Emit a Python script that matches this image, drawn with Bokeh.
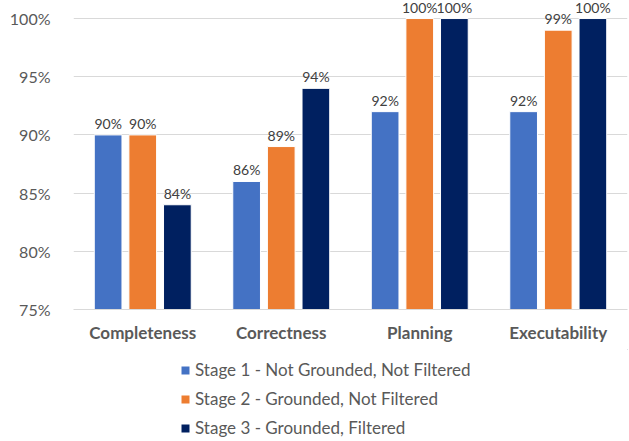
from bokeh.plotting import figure
from bokeh.layouts import column
from bokeh.models import ColumnDataSource, FactorRange, Legend, LegendItem, NumeralTickFormatter, FixedTicker
from bokeh.transform import dodge
from bokeh.core.properties import value
from bokeh.embed import file_html
from bokeh.resources import INLINE

categories = ["Completeness", "Correctness", "Planning", "Executability"]
stage1 = [90, 86, 92, 92]
stage2 = [90, 89, 100, 99]
stage3 = [84, 94, 100, 100]
series_names = ["Stage 1 - Not Grounded, Not Filtered",
                "Stage 2 - Grounded, Not Filtered",
                "Stage 3 - Grounded, Filtered"]
colors = ["#4472C4", "#ED7D31", "#002060"]
y_ticks = [75, 80, 85, 90, 95, 100]

src = ColumnDataSource(dict(
    cat=categories,
    s1=stage1, s2=stage2, s3=stage3,
    l1=[f"{v}%" for v in stage1],
    l2=[f"{v}%" for v in stage2],
    l3=[f"{v}%" for v in stage3],
))

p = figure(width=629, height=349,
           x_range=FactorRange(*categories, range_padding=0),
           y_range=(75, 101.55), output_backend="svg", toolbar_location=None,
           min_border_left=73, min_border_right=2, min_border_top=0, min_border_bottom=40)
p.outline_line_color = None
p.background_fill_color = "white"
p.border_fill_color = "white"

offsets = [-0.25, 0.0, 0.25]
keys = ["s1", "s2", "s3"]
lkeys = ["l1", "l2", "l3"]
for off, k, lk, c in zip(offsets, keys, lkeys, colors):
    p.vbar(x=dodge("cat", off, range=p.x_range), top=k, bottom=75, width=0.2,
           source=src, fill_color=c, line_color="white", line_width=1)
    p.text(x=dodge("cat", off, range=p.x_range), y=k, text=lk, source=src,
           text_align="center", text_baseline="bottom", y_offset=-3,
           text_font=value("Lato"), text_font_size="14px", text_color="#404040")

p.yaxis.ticker = FixedTicker(ticks=y_ticks)
p.yaxis.formatter = NumeralTickFormatter(format="0")
p.yaxis.major_label_overrides = {t: f"{t}%" for t in y_ticks}
p.yaxis.axis_line_color = None
p.yaxis.major_tick_line_color = None
p.yaxis.minor_tick_line_color = None
p.yaxis.major_label_standoff = 17
p.yaxis.major_label_text_font = "Lato"
p.yaxis.major_label_text_font_size = "16px"
p.yaxis.major_label_text_color = "#595959"

p.xaxis.axis_line_color = "#D9D9D9"
p.xaxis.major_tick_line_color = None
p.xaxis.minor_tick_line_color = None
p.xaxis.major_label_standoff = 6
p.xaxis.major_label_text_font = "Lato"
p.xaxis.major_label_text_font_style = "bold"
p.xaxis.major_label_text_font_size = "17px"
p.xaxis.major_label_text_color = "#595959"

p.xgrid.grid_line_color = None
p.ygrid.grid_line_color = "#D9D9D9"
p.ygrid.ticker = FixedTicker(ticks=y_ticks)

# legend figure below the chart (its dummy bars lie outside its visible range)
lg = figure(width=629, height=92, x_range=(0, 1), y_range=(0, 1),
            x_axis_location=None, y_axis_location=None,
            output_backend="svg", toolbar_location=None,
            min_border_left=0, min_border_right=0, min_border_top=0, min_border_bottom=0)
lg.grid.grid_line_color = None
lg.outline_line_color = None
hidden = ColumnDataSource(dict(x=[5], top=[5]))
leg_renderers = [lg.vbar(x="x", top="top", bottom=4, width=0.1, source=hidden,
                         fill_color=c, line_color=None) for c in colors]
legend = Legend(items=[LegendItem(label=n, renderers=[r]) for n, r in zip(series_names, leg_renderers)],
                orientation="vertical", location=(107, 3),
                glyph_width=10, glyph_height=10, label_text_font="Lato",
                label_text_font_size="17px", label_text_color="#595959",
                label_height=20, label_standoff=5, spacing=8, padding=0, margin=0,
                border_line_color=None, background_fill_alpha=0)
lg.add_layout(legend)

layout = column(p, lg, spacing=0)
open("out.html", "w").write(file_html(layout, INLINE))
